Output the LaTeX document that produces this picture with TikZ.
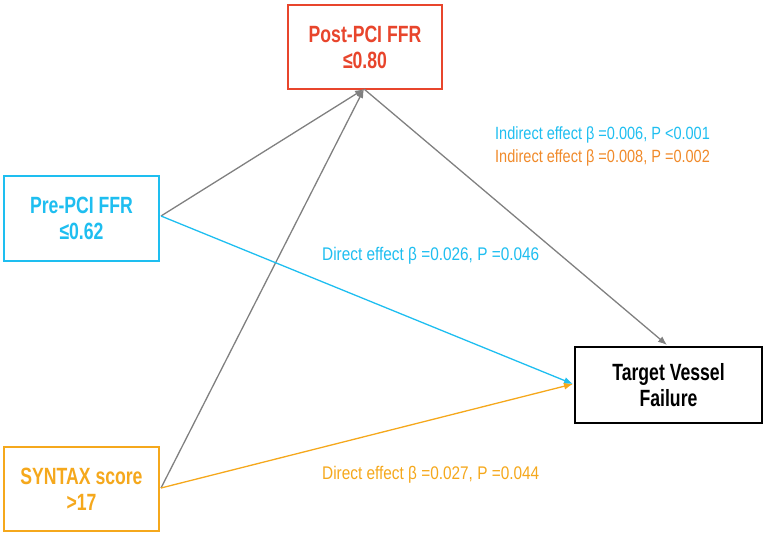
\documentclass[tikz,border=0pt]{standalone}
\usepackage{fontspec}
\setmainfont{Liberation Sans}[FakeStretch=0.82]
\newfontfamily\boxfont{Liberation Sans}[FakeStretch=0.75]
\newfontfamily\dirfont{Liberation Sans}[FakeStretch=0.84]
\usetikzlibrary{arrows.meta}
\definecolor{cred}{HTML}{E8452C}
\definecolor{ccyan}{HTML}{1EBEF0}
\definecolor{cyel}{HTML}{F5A81C}
\definecolor{corg}{HTML}{F08A2A}
\definecolor{cgray}{HTML}{808080}
\tikzset{
  box/.style={draw, line width=2.6pt, fill=white, align=center, inner sep=0pt, font=\boxfont\fontsize{23.5}{26}\selectfont\bfseries},
  lab/.style={font=\fontsize{17.7}{21}\selectfont, anchor=west, inner sep=0pt},
  dlab/.style={font=\dirfont\fontsize{18.3}{21}\selectfont, anchor=west, inner sep=0pt},
  conn/.style={line width=1.3pt, -{Latex[length=9pt,width=7pt]}}
}
\begin{document}
\begin{tikzpicture}[x=1pt,y=-1pt]
\useasboundingbox (0,0) rectangle (765,535);
\node[box, draw=cred, text=cred, minimum width=154pt, minimum height=84pt] (post) at (365,47) {Post-PCI FFR\\≤0.80};
\node[box, draw=ccyan, text=ccyan, minimum width=155pt, minimum height=85pt] (pre) at (81.5,218.5) {Pre-PCI FFR\\≤0.62};
\node[box, draw=cyel, text=cyel, minimum width=155pt, minimum height=84pt] (syn) at (81.5,489) {SYNTAX score\\>17};
\node[box, draw=black, text=black, minimum width=187pt, minimum height=76pt] (tvf) at (668.5,385) {Target Vessel\\Failure};
\coordinate (preE) at (161,216);
\coordinate (synE) at (161,488);
\coordinate (postB) at (364,89);
\coordinate (tvfT) at (667,345);
\coordinate (tvfL) at (573,384);
\draw[conn, cgray] (preE) -- (postB);
\draw[conn, cgray] (synE) -- (postB);
\draw[conn, cgray] (postB) -- (tvfT);
\draw[conn, ccyan] (preE) -- (tvfL);
\draw[conn, cyel] (synE) -- (tvfL);
\node[lab, text=ccyan] (l1) at (495,135) {Indirect effect β =0.006, P <0.001};
\node[lab, text=corg] (l2) at (495,158) {Indirect effect β =0.008, P =0.002};
\node[dlab, text=ccyan] (l3) at (322,256) {Direct effect β =0.026, P =0.046};
\node[dlab, text=cyel] (l4) at (322,475) {Direct effect β =0.027, P =0.044};
\end{tikzpicture}
\end{document}
